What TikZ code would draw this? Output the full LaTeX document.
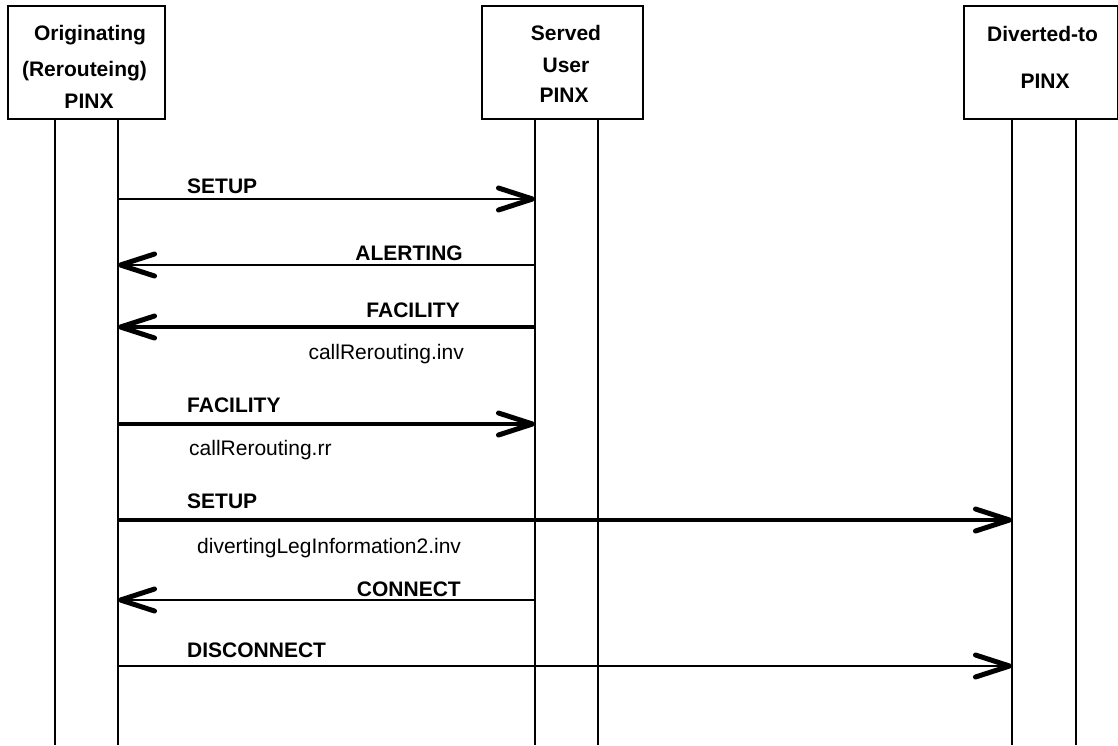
\documentclass[tikz,border=0pt]{standalone}
\usepackage{fontspec}
\setmainfont{Liberation Sans}
\usetikzlibrary{arrows.meta}
\begin{document}
\begin{tikzpicture}[x=1pt,y=-1pt,
  box/.style={draw,line width=2pt,minimum height=113pt,inner sep=0pt},
  head/.style={font=\bfseries\fontsize{21}{21}\selectfont,inner sep=0pt,anchor=base},
  msg/.style={font=\bfseries\fontsize{21}{21}\selectfont,inner sep=0pt},
  par/.style={font=\fontsize{21}{21}\selectfont,inner sep=0pt},
  life/.style={line width=2pt},
  tip/.style={-{Straight Barb[length=34pt,width=22pt,line width=5pt,round]}},
  thin/.style={tip,line width=2pt},
  thick/.style={tip,line width=4.5pt}]
\useasboundingbox (0,0) rectangle (1118,745);
% boxes
\node[box,minimum width=157pt] (b1) at (86.5,62.5) {};
\node[box,minimum width=161pt] (b2) at (562.5,62.5) {};
\node[box,minimum width=154pt] (b3) at (1041,62.5) {};
% header texts
\node[head] (t1a) at (90,40) {Originating};
\node[head] (t1b) at (84.5,76) {(Rerouteing)};
\node[head] (t1c) at (89,108) {PINX};
\node[head] (t2a) at (566,40) {Served};
\node[head] (t2b) at (566,72) {User};
\node[head] (t2c) at (564,102) {PINX};
\node[head] (t3a) at (1042.5,41) {Diverted-to};
\node[head] (t3c) at (1045,88) {PINX};
% lifelines
\coordinate (l1t) at (55,119);  \coordinate (l1b) at (55,745);
\coordinate (l2t) at (118,119); \coordinate (l2b) at (118,745);
\coordinate (l3t) at (535,119); \coordinate (l3b) at (535,745);
\coordinate (l4t) at (598,119); \coordinate (l4b) at (598,745);
\coordinate (l5t) at (1012,119); \coordinate (l5b) at (1012,745);
\coordinate (l6t) at (1076,119); \coordinate (l6b) at (1076,745);
\foreach \i in {1,...,6} {\draw[life] (l\i t) -- (l\i b);}
% message levels
\coordinate (m1) at (0,199);
\coordinate (m2) at (0,265);
\coordinate (m3) at (0,327);
\coordinate (m4) at (0,424);
\coordinate (m5) at (0,520);
\coordinate (m6) at (0,600);
\coordinate (m7) at (0,666);
\draw[thin] (l2t |- m1) -- (l3t |- m1);
\draw[thin] (l3t |- m2) -- (l2t |- m2);
\draw[thick] (l3t |- m3) -- (l2t |- m3);
\draw[thick] (l2t |- m4) -- (l3t |- m4);
\draw[thick] (l2t |- m5) -- (l5t |- m5);
\draw[thin] (l3t |- m6) -- (l2t |- m6);
\draw[thin] (l2t |- m7) -- (l5t |- m7);
% labels
\node[msg,anchor=base west] (s1) at (187,193) {SETUP};
\node[msg,anchor=base east] (s2) at (463,260) {ALERTING};
\node[msg,anchor=base east] (s3) at (460,317) {FACILITY};
\node[par,anchor=base east] (p3) at (464,359) {callRerouting.inv};
\node[msg,anchor=base west] (s4) at (187,412) {FACILITY};
\node[par,anchor=base west] (p4) at (189,455) {callRerouting.rr};
\node[msg,anchor=base west] (s5) at (187,508) {SETUP};
\node[par,anchor=base west] (p5) at (197,553) {divertingLegInformation2.inv};
\node[msg,anchor=base east] (s6) at (461,596) {CONNECT};
\node[msg,anchor=base west] (s7) at (187,657) {DISCONNECT};
\end{tikzpicture}
\end{document}
